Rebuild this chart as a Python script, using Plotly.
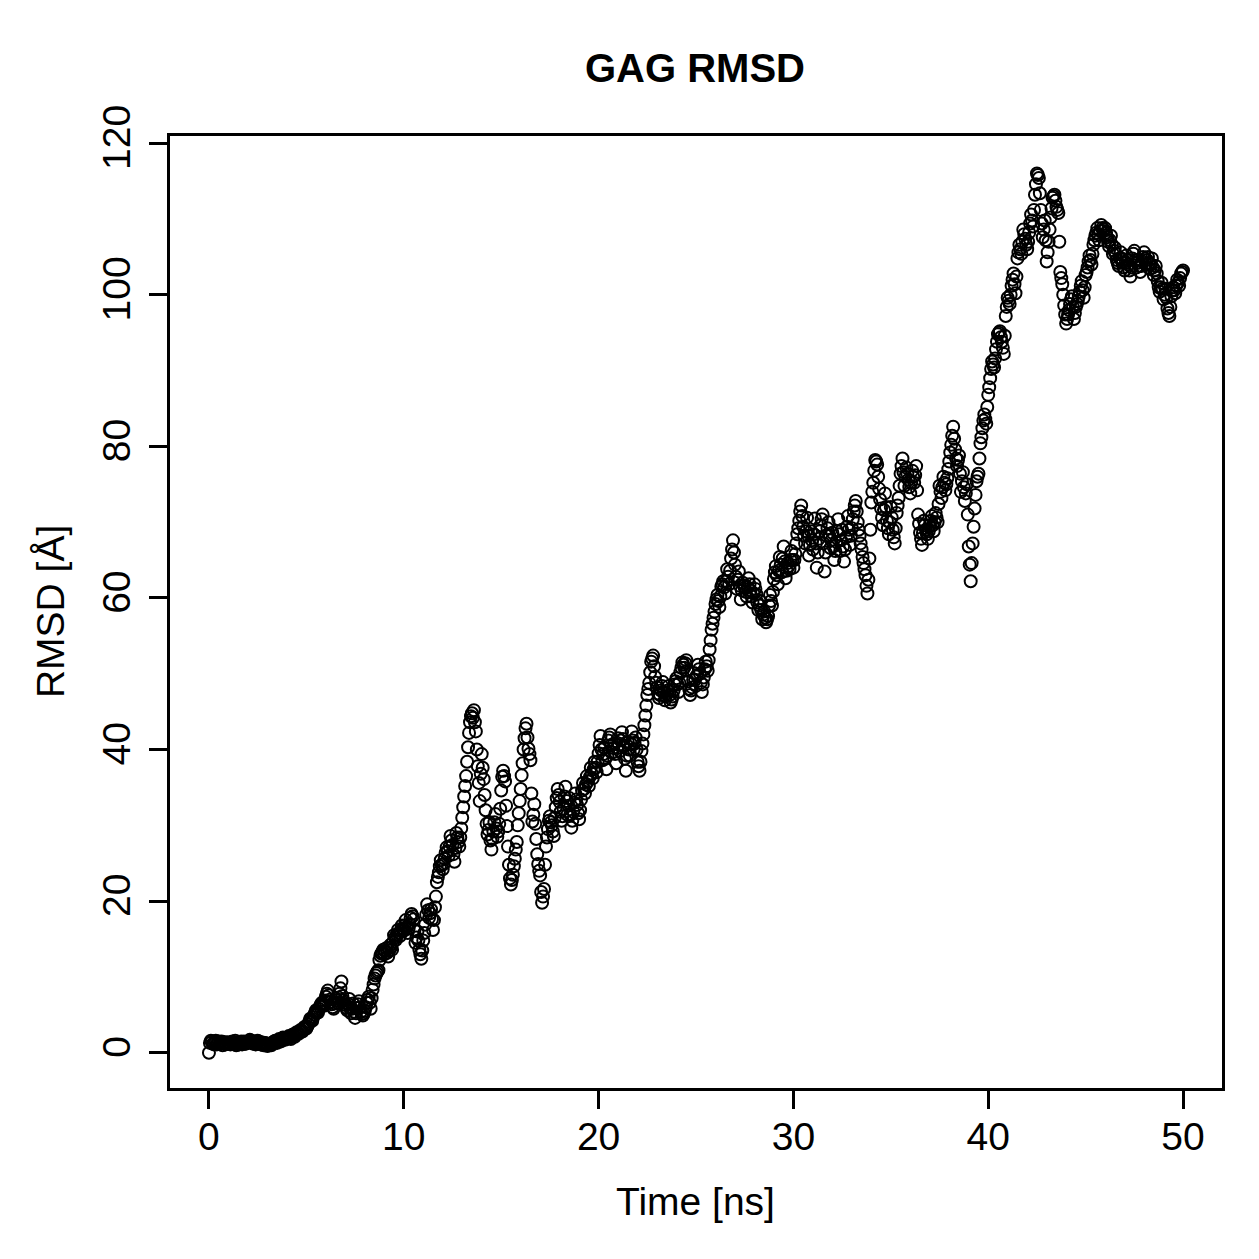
import plotly.graph_objects as go

# Time axis (ns): frames on the whole 0.1 ns grid and the frames in between
time_ns = [round(i * 0.1, 1) for i in range(501)]
time_half_ns = [round(i * 0.1 + 0.05, 2) for i in range(500)]

# RMSD values (Å) at t = 0.0, 0.1, ... 50.0 (one row per ns)
rmsd = [
    0.0, 1.6, 1.2, 1.4, 1.1, 1.5, 1.3, 1.0, 1.4, 1.2,
    1.3, 1.1, 1.5, 1.2, 1.0, 1.4, 1.3, 1.1, 1.5, 1.2,
    1.4, 1.7, 1.3, 1.5, 1.1, 1.6, 1.2, 1.4, 1.0, 1.3,
    0.9, 1.2, 1.0, 1.4, 1.6, 1.3, 1.8, 1.5, 2.0, 1.7,
    1.9, 2.2, 1.8, 2.4, 2.1, 2.7, 2.5, 3.0, 2.8, 3.4,
    3.2, 3.8, 4.5, 4.2, 5.0, 5.6, 5.3, 6.1, 6.6, 6.2,
    7.4, 8.2, 7.0, 6.4, 5.8, 7.2, 6.6, 7.8, 9.4, 6.9,
    6.3, 5.6, 7.1, 5.2, 6.5, 4.6, 5.9, 6.8, 5.4, 4.9,
    5.5, 6.6, 7.4, 5.8, 8.3, 9.8, 10.5, 10.9, 12.8, 13.3,
    13.0, 13.8, 12.7, 14.2, 13.6, 15.5, 14.9, 16.2, 15.4, 16.8,
    16.1, 17.5, 15.8, 17.0, 18.3, 17.6, 14.5, 16.0, 13.6, 12.4,
    14.8, 16.9, 19.6, 17.8, 18.9, 16.2, 19.2, 22.5, 23.8, 25.4,
    24.2, 25.6, 27.1, 26.0, 28.6, 27.4, 25.2, 29.0, 27.8, 28.4,
    31.0, 33.8, 36.5, 40.3, 43.6, 44.8, 45.2, 42.4, 37.8, 33.2,
    39.4, 36.1, 32.0, 28.8, 30.4, 26.8, 29.2, 31.5, 28.5, 30.2,
    34.6, 37.2, 35.8, 29.9, 24.8, 22.2, 23.5, 25.6, 27.8, 31.6,
    34.8, 38.2, 41.5, 43.4, 40.1, 38.6, 30.5, 32.8, 28.2, 24.9,
    23.4, 19.8, 21.6, 27.2, 29.5, 31.2, 30.0, 28.6, 32.4, 34.8,
    33.1, 30.6, 32.2, 35.1, 31.4, 33.6, 29.7, 31.8, 34.2, 32.7,
    30.8, 33.4, 35.6, 34.2, 36.5, 35.2, 37.6, 36.2, 38.4, 37.0,
    39.5, 41.8, 38.6, 40.2, 37.4, 41.2, 42.0, 39.6, 40.8, 38.2,
    41.5, 39.8, 42.3, 40.5, 37.2, 41.0, 39.2, 42.4, 40.0, 41.6,
    38.4, 37.2, 39.8, 42.0, 44.5, 47.2, 48.8, 51.6, 52.4, 49.6,
    48.2, 46.8, 47.8, 48.9, 46.5, 47.4, 48.4, 46.2, 47.0, 48.6,
    49.4, 47.6, 50.2, 51.5, 50.8, 51.8, 49.0, 47.2, 48.2, 50.1,
    48.4, 51.2, 50.0, 47.6, 49.5, 51.6, 50.4, 53.2, 55.8, 57.4,
    59.2, 60.4, 58.8, 61.5, 62.2, 60.6, 63.8, 61.8, 65.2, 67.6,
    64.4, 61.2, 63.5, 59.8, 62.0, 61.4, 60.2, 62.6, 61.0, 59.4,
    61.8, 60.5, 58.4, 59.6, 57.2, 58.2, 56.8, 57.6, 60.4, 59.0,
    62.5, 64.2, 61.8, 65.4, 63.4, 66.8, 62.6, 64.6, 63.8, 66.2,
    64.0, 65.8, 68.4, 70.2, 72.2, 69.4, 67.2, 70.6, 65.6, 68.8,
    66.4, 70.5, 64.0, 67.8, 69.6, 71.0, 63.5, 68.2, 70.0, 66.6,
    68.6, 65.0, 67.4, 70.4, 66.2, 69.0, 64.8, 68.0, 70.8, 67.0,
    69.2, 71.4, 72.8, 70.0, 68.2, 66.4, 64.6, 63.0, 60.6, 65.2,
    72.6, 75.2, 78.2, 77.6, 74.4, 71.8, 69.6, 73.8, 70.2, 68.4,
    72.0, 69.0, 67.2, 71.2, 73.2, 76.4, 78.4, 74.8, 77.2, 75.6,
    73.8, 76.8, 75.2, 77.4, 71.0, 68.6, 67.0, 70.2, 69.0, 67.8,
    69.6, 70.8, 68.8, 71.2, 70.0, 74.8, 73.2, 76.0, 74.2, 75.8,
    78.0, 80.2, 82.6, 79.6, 77.4, 78.8, 74.0, 76.6, 72.8, 75.0,
    66.8, 62.2, 67.2, 71.8, 75.4, 76.4, 80.4, 82.4, 84.2, 83.0,
    86.8, 89.0, 91.2, 90.4, 92.8, 94.8, 95.2, 93.8, 92.2, 97.2,
    99.6, 98.8, 101.2, 102.8, 100.2, 104.8, 106.6, 105.4, 108.6, 107.4,
    106.0, 108.2, 110.6, 109.0, 113.2, 116.0, 115.4, 111.2, 107.6, 109.8,
    104.4, 107.0, 110.2, 112.8, 113.2, 111.6, 110.8, 103.0, 101.4, 98.6,
    96.2, 97.4, 98.8, 99.8, 96.8, 98.4, 99.2, 100.4, 101.8, 99.6,
    102.6, 103.6, 105.2, 104.0, 106.6, 107.8, 108.8, 107.2, 109.2, 108.4,
    108.8, 107.6, 106.4, 107.8, 105.4, 106.2, 104.6, 103.8, 105.6, 104.2,
    103.2, 105.2, 104.0, 102.4, 104.8, 105.8, 103.6, 104.6, 103.0, 104.4,
    105.6, 104.0, 105.0, 103.4, 104.8, 102.6, 103.8, 101.8, 100.4, 101.6,
    99.4, 100.8, 98.2, 97.2, 99.8, 101.0, 100.2, 102.0, 101.2, 102.8,
    103.2,
]

# RMSD values (Å) at t = 0.05, 0.15, ... 49.95 (one row per ns)
rmsd_half = [
    1.3, 1.5, 1.1, 1.6, 1.3, 1.2, 1.5, 1.3, 1.1, 1.4,
    1.2, 1.4, 1.3, 1.6, 1.2, 1.1, 1.5, 1.4, 1.2, 1.3,
    1.5, 1.6, 1.2, 1.4, 1.3, 1.5, 1.1, 1.2, 1.3, 1.1,
    1.0, 1.1, 1.3, 1.5, 1.4, 1.5, 1.6, 1.8, 1.9, 1.8,
    2.0, 2.0, 2.1, 2.3, 2.4, 2.6, 2.8, 2.9, 3.1, 3.3,
    3.5, 4.1, 4.3, 4.7, 5.3, 5.4, 5.8, 6.4, 6.3, 6.9,
    7.8, 7.6, 6.7, 6.0, 6.5, 6.9, 7.3, 8.5, 7.5, 6.6,
    5.9, 6.4, 6.0, 5.8, 5.4, 5.2, 6.4, 6.0, 5.1, 5.2,
    6.0, 7.0, 6.6, 7.2, 9.0, 10.2, 10.7, 12.2, 13.1, 13.6,
    13.4, 13.2, 13.5, 13.9, 14.6, 15.2, 15.6, 15.8, 16.1, 16.4,
    16.8, 16.6, 16.4, 17.8, 18.0, 16.2, 15.2, 14.8, 13.0, 13.5,
    15.8, 18.2, 18.8, 18.4, 17.6, 17.5, 20.6, 23.2, 24.6, 24.8,
    24.9, 26.4, 26.6, 27.2, 28.0, 26.2, 27.0, 28.4, 27.2, 29.6,
    32.4, 35.2, 38.4, 42.2, 44.4, 44.2, 43.6, 40.0, 35.6, 36.8,
    37.6, 34.0, 30.2, 29.4, 28.0, 28.2, 30.4, 29.6, 29.2, 32.2,
    36.4, 36.5, 32.6, 27.2, 23.0, 22.8, 24.6, 26.8, 30.0, 33.2,
    36.6, 40.0, 42.8, 41.6, 39.4, 34.2, 31.4, 30.2, 26.2, 24.0,
    21.2, 20.6, 24.8, 28.4, 30.6, 30.4, 29.2, 31.0, 33.6, 34.0,
    31.8, 31.2, 33.8, 33.2, 32.6, 31.4, 30.6, 33.0, 33.4, 31.6,
    32.0, 34.6, 34.8, 35.4, 35.8, 36.4, 36.8, 37.4, 37.6, 38.4,
    40.6, 40.0, 39.4, 38.8, 39.2, 41.6, 40.6, 40.2, 39.4, 40.2,
    40.6, 41.2, 41.4, 38.8, 39.2, 40.0, 40.8, 41.2, 40.8, 40.0,
    37.8, 38.4, 40.8, 43.2, 45.8, 48.0, 50.2, 52.0, 51.0, 48.8,
    47.4, 47.2, 48.4, 47.6, 47.0, 47.8, 47.2, 46.6, 47.8, 49.0,
    48.6, 48.8, 50.8, 51.2, 51.4, 50.4, 48.0, 47.8, 49.2, 49.2,
    49.8, 50.6, 48.8, 48.6, 50.6, 51.0, 51.8, 54.4, 56.6, 58.2,
    59.8, 59.6, 60.2, 61.8, 61.4, 62.2, 62.8, 63.6, 66.4, 66.0,
    62.8, 62.4, 61.6, 61.0, 61.6, 60.8, 61.4, 61.8, 60.2, 60.6,
    61.2, 59.4, 59.0, 58.4, 57.8, 57.4, 57.2, 59.0, 59.6, 60.8,
    63.4, 63.0, 63.6, 64.4, 65.2, 64.8, 63.6, 64.2, 65.0, 65.0,
    65.0, 67.2, 69.2, 71.4, 70.8, 68.2, 68.8, 68.2, 67.0, 67.6,
    68.4, 67.2, 66.0, 68.8, 70.4, 67.2, 66.0, 69.2, 68.2, 67.6,
    66.8, 66.2, 68.8, 68.4, 67.6, 66.8, 66.4, 69.4, 69.0, 68.2,
    70.4, 72.2, 71.4, 69.0, 67.2, 65.4, 63.8, 61.6, 62.4, 69.0,
    74.0, 76.8, 78.0, 76.0, 73.0, 70.6, 71.6, 72.0, 69.2, 70.0,
    70.6, 68.0, 69.2, 72.2, 74.8, 77.4, 76.6, 76.0, 76.4, 74.6,
    75.2, 76.0, 76.2, 74.2, 69.8, 67.8, 68.6, 69.6, 68.4, 68.8,
    70.2, 69.6, 70.0, 70.6, 72.4, 74.0, 74.6, 75.2, 75.0, 77.0,
    79.2, 81.4, 81.0, 78.4, 78.2, 76.4, 75.4, 74.6, 73.8, 71.0,
    64.4, 64.6, 69.4, 73.6, 76.0, 78.4, 81.2, 83.4, 83.6, 85.2,
    87.8, 90.2, 90.8, 91.6, 93.8, 95.0, 94.4, 93.0, 94.6, 98.4,
    99.2, 100.0, 102.0, 101.4, 102.4, 105.6, 106.0, 107.0, 108.0, 106.6,
    107.0, 109.4, 109.8, 111.2, 114.6, 115.8, 113.4, 109.4, 108.6, 107.2,
    105.6, 108.6, 111.4, 113.0, 112.4, 111.2, 107.0, 102.2, 100.0, 97.4,
    96.8, 98.0, 99.4, 98.4, 97.6, 98.8, 99.8, 101.2, 100.6, 101.0,
    103.0, 104.4, 104.6, 105.4, 107.2, 108.2, 108.0, 108.4, 108.8, 108.6,
    108.2, 107.0, 107.2, 106.6, 105.8, 105.4, 104.2, 104.8, 104.8, 103.6,
    104.2, 104.6, 103.2, 103.6, 105.4, 104.6, 104.2, 103.8, 103.8, 105.0,
    104.8, 104.6, 104.2, 104.0, 103.6, 103.2, 102.8, 101.0, 101.0, 100.8,
    100.0, 99.6, 97.6, 98.4, 100.6, 100.6, 101.2, 101.6, 102.2, 103.0,
]

x_ticks = [0, 10, 20, 30, 40, 50]
y_ticks = [0, 20, 40, 60, 80, 100, 120]

title_text = "GAG RMSD"
x_label = "Time [ns]"
y_label = "RMSD [Å]"

# merge the two sets of frames in time order
frames = sorted(zip(time_ns + time_half_ns, rmsd + rmsd_half))
t_all = [f[0] for f in frames]
r_all = [f[1] for f in frames]

FONT = "Liberation Sans, Arial, Helvetica, sans-serif"

fig = go.Figure()
fig.add_trace(go.Scatter(
    x=t_all, y=r_all, mode="markers",
    marker=dict(symbol="circle-open", size=12, color="black",
                line=dict(color="black", width=2)),
    showlegend=False, hoverinfo="skip",
))

axis_common = dict(
    showgrid=False, zeroline=False,
    showline=True, linecolor="black", linewidth=3, mirror=True,
    ticks="outside", ticklen=18, tickwidth=3, tickcolor="black",
    tickfont=dict(family=FONT, size=39, color="black"),
)

fig.update_layout(
    width=1259, height=1259,
    margin=dict(l=170, r=37, t=136, b=171),
    paper_bgcolor="white", plot_bgcolor="white",
    xaxis=dict(range=[-2, 52], tickvals=x_ticks,
               ticktext=[str(v) for v in x_ticks],
               ticklabelstandoff=-6, **axis_common),
    yaxis=dict(range=[-4.65, 120.95], tickvals=y_ticks,
               ticktext=[str(v) for v in y_ticks], tickangle=-90,
               ticklabelstandoff=3, **axis_common),
    annotations=[
        dict(text="<b>" + title_text + "</b>", xref="paper", yref="paper",
             x=0.4995, y=1.0714, showarrow=False,
             font=dict(family=FONT, size=40, color="black"),
             xanchor="center", yanchor="middle"),
        dict(text=x_label, xref="paper", yref="paper",
             x=0.4995, y=-0.1197, showarrow=False,
             font=dict(family=FONT, size=39, color="black"),
             xanchor="center", yanchor="middle"),
        dict(text=y_label, xref="paper", yref="paper",
             x=-0.114, y=0.5, showarrow=False, textangle=-90,
             font=dict(family=FONT, size=39, color="black"),
             xanchor="center", yanchor="middle"),
    ],
)

fig.write_html("out.html")
